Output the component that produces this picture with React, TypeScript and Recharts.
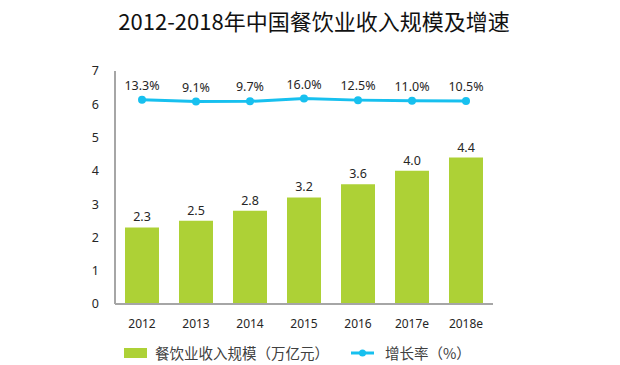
import React from 'react';
import {
  ComposedChart, Bar, Line, XAxis, YAxis, LabelList, Legend
} from 'recharts';

const years = ['2012', '2013', '2014', '2015', '2016', '2017e', '2018e'];
const revenue = [2.3, 2.5, 2.8, 3.2, 3.6, 4.0, 4.4];
const growth = [13.3, 9.1, 9.7, 16.0, 12.5, 11.0, 10.5];
const yTicks = [0, 1, 2, 3, 4, 5, 6, 7];

const BAR_COLOR = '#ADD136';
const LINE_COLOR = '#17C0EF';
const FONT = '"Noto Sans", "Noto Sans CJK SC", sans-serif';

const data = years.map((year, i) => ({ year, revenue: revenue[i], growth: growth[i] }));

const LegendContent = () => (
  <div style={{ display: 'flex', alignItems: 'center', paddingLeft: 124, paddingTop: 8, fontFamily: '"Noto Sans CJK SC", sans-serif', fontSize: 14.5, color: '#404040' }}>
    <span style={{ display: 'inline-block', width: 23, height: 10, background: BAR_COLOR }} />
    <span style={{ marginLeft: 8 }}>餐饮业收入规模（万亿元）</span>
    <svg width={23} height={10} style={{ marginLeft: 22 }}>
      <line x1={0} y1={5} x2={23} y2={5} stroke={LINE_COLOR} strokeWidth={3} />
      <circle cx={11.5} cy={5} r={3.5} fill={LINE_COLOR} />
    </svg>
    <span style={{ marginLeft: 11 }}>增长率（%）</span>
  </div>
);

export default function App() {
  return (
    <div style={{ position: 'absolute', left: 0, top: 0, width: 620, height: 365, background: '#fff' }}>
      <div style={{
        position: 'absolute', left: 0, top: 5, width: 628, textAlign: 'center',
        fontFamily: '"Noto Sans CJK SC", sans-serif', fontSize: 22, color: '#111', lineHeight: '30px'
      }}>
        2012-2018年中国餐饮业收入规模及增速
      </div>
      <ComposedChart
        width={620}
        height={365}
        data={data}
        margin={{ top: 71, right: 127, left: 0, bottom: 0 }}
        style={{ fontFamily: FONT }}
      >
        <XAxis
          dataKey="year"
          height={30}
          tickLine={false}
          axisLine={{ stroke: '#A6A6A6', strokeWidth: 2 }}
          tick={{ fill: '#262626', fontSize: 12 }}
          tickMargin={9}
        />
        <YAxis
          yAxisId="l"
          width={115}
          domain={[0, 7]}
          ticks={yTicks}
          tickLine={false}
          tickSize={0}
          tickMargin={16}
          axisLine={{ stroke: '#A6A6A6', strokeWidth: 2 }}
          tick={{ fill: '#262626', fontSize: 12.5 }}
        />
        <YAxis yAxisId="r" orientation="right" hide domain={[-460, 80]} />
        <Bar yAxisId="l" dataKey="revenue" fill={BAR_COLOR} barSize={34} isAnimationActive={false}>
          <LabelList dataKey="revenue" position="top" offset={6}
            formatter={(v: number) => v.toFixed(1)}
            style={{ fill: '#262626', fontSize: 12.5 }} />
        </Bar>
        <Line yAxisId="r" dataKey="growth" stroke={LINE_COLOR} strokeWidth={3}
          dot={{ r: 4, fill: LINE_COLOR, stroke: LINE_COLOR, strokeWidth: 0 }}
          isAnimationActive={false}>
          <LabelList dataKey="growth" position="top" offset={10}
            formatter={(v: number) => `${v.toFixed(1)}%`}
            style={{ fill: '#262626', fontSize: 12.5 }} />
        </Line>
        <Legend
          verticalAlign="bottom"
          height={31}
          wrapperStyle={{ left: 0, width: 620 }}
          content={<LegendContent />}
        />
      </ComposedChart>
    </div>
  );
}
